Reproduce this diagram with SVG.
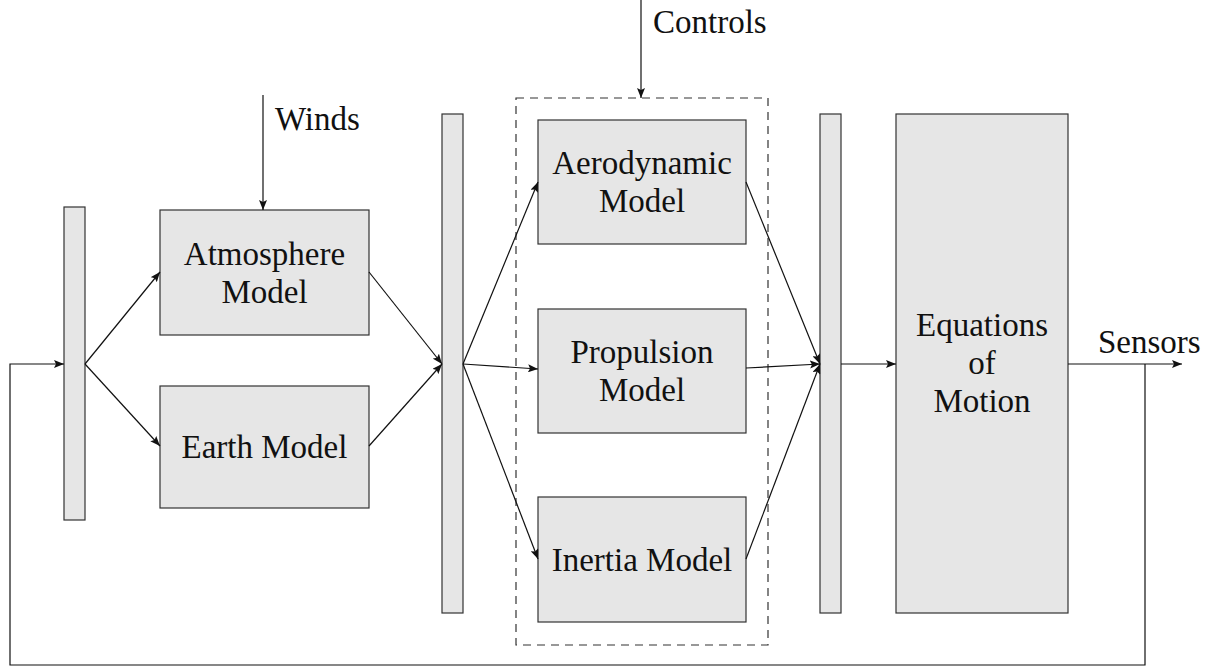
<svg xmlns="http://www.w3.org/2000/svg" width="1213" height="668" viewBox="0 0 1213 668">
  <style>
    .box { fill: #e6e6e6; stroke: #333; stroke-width: 1.2; }
    .lbl { font-size: 33px; fill: #111; text-anchor: middle; }
    .side { font-size: 33px; fill: #111; }
    .wire { fill: none; stroke: #111; stroke-width: 1.2; }
    .dash { fill: none; stroke: #333; stroke-width: 1.2; stroke-dasharray: 8 6; }
  </style>
  <defs>
    <marker id="arr" viewBox="0 0 10 8" refX="10" refY="4" markerWidth="10" markerHeight="8" markerUnits="userSpaceOnUse" orient="auto">
      <path d="M0,0 L10,4 L0,8 L2,4 Z" fill="#111"/>
    </marker>
  </defs>

  <rect width="1213" height="668" fill="#fff"/>

  <!-- dashed group around the force models -->
  <rect class="dash" x="516" y="98" width="252" height="547"/>

  <g id="bus1"><rect class="box" x="64" y="207" width="21" height="313"/></g>
  <g id="bus2"><rect class="box" x="442" y="114" width="21" height="499"/></g>
  <g id="bus3"><rect class="box" x="820" y="114" width="21" height="499"/></g>

  <g font-family="Liberation Serif, Times New Roman, Noto Serif, DejaVu Serif, serif">
    <g id="atmosphere">
      <rect class="box" x="160" y="210" width="209" height="125"/>
      <text class="lbl" x="264.5" y="265">Atmosphere</text>
      <text class="lbl" x="264.5" y="303">Model</text>
    </g>
    <g id="earth">
      <rect class="box" x="160" y="386" width="209" height="122"/>
      <text class="lbl" x="264.5" y="458">Earth Model</text>
    </g>
    <g id="aerodynamic">
      <rect class="box" x="538" y="120" width="208" height="124"/>
      <text class="lbl" x="642" y="174">Aerodynamic</text>
      <text class="lbl" x="642" y="212">Model</text>
    </g>
    <g id="propulsion">
      <rect class="box" x="538" y="309" width="208" height="124"/>
      <text class="lbl" x="642" y="363">Propulsion</text>
      <text class="lbl" x="642" y="401">Model</text>
    </g>
    <g id="inertia">
      <rect class="box" x="538" y="497" width="208" height="125"/>
      <text class="lbl" x="642" y="571">Inertia Model</text>
    </g>
    <g id="equations">
      <rect class="box" x="896" y="114" width="172" height="499"/>
      <text class="lbl" x="982" y="336">Equations</text>
      <text class="lbl" x="982" y="374">of</text>
      <text class="lbl" x="982" y="412">Motion</text>
    </g>
    <text class="side" x="275" y="130">Winds</text>
    <text class="side" x="653" y="33">Controls</text>
    <text class="side" x="1098" y="353">Sensors</text>
  </g>

  <g id="connectors">
    <line class="wire" x1="85" y1="364" x2="160" y2="272" marker-end="url(#arr)"/>
    <line class="wire" x1="85" y1="364" x2="160" y2="446" marker-end="url(#arr)"/>
    <line class="wire" x1="369" y1="272" x2="442" y2="364" marker-end="url(#arr)"/>
    <line class="wire" x1="369" y1="446" x2="442" y2="364" marker-end="url(#arr)"/>
    <line class="wire" x1="463" y1="364" x2="538" y2="182" marker-end="url(#arr)"/>
    <line class="wire" x1="463" y1="364" x2="538" y2="369" marker-end="url(#arr)"/>
    <line class="wire" x1="463" y1="364" x2="538" y2="559" marker-end="url(#arr)"/>
    <line class="wire" x1="746" y1="182" x2="820" y2="364" marker-end="url(#arr)"/>
    <line class="wire" x1="746" y1="368" x2="820" y2="364" marker-end="url(#arr)"/>
    <line class="wire" x1="746" y1="559" x2="820" y2="364" marker-end="url(#arr)"/>
    <line class="wire" x1="841" y1="364" x2="896" y2="364" marker-end="url(#arr)"/>
    <line class="wire" x1="1068" y1="364" x2="1182" y2="364" marker-end="url(#arr)"/>
    <polyline class="wire" points="1145,364 1145,665 10,665 10,364 64,364" marker-end="url(#arr)"/>
    <line class="wire" x1="263" y1="95" x2="263" y2="210" marker-end="url(#arr)"/>
    <line class="wire" x1="641" y1="0" x2="641" y2="98" marker-end="url(#arr)"/>
  </g>
</svg>
